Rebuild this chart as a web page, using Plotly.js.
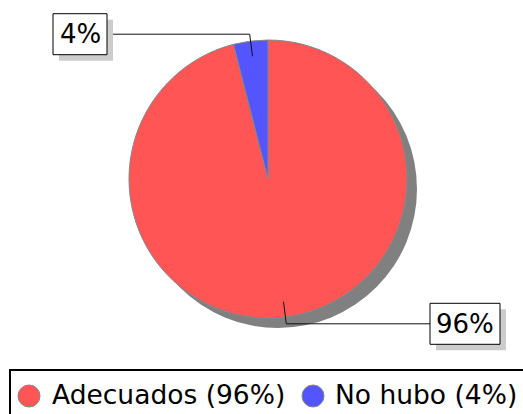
<!DOCTYPE html>
<html>
<head>
<meta charset="utf-8">
<script src="https://cdn.plot.ly/plotly-3.0.1.min.js"></script>
<style>html,body{margin:0;padding:0;background:#fff;}#chart{width:523px;height:414px;}</style>
</head>
<body>
<div id="chart"></div>
<script>
// ---- data ----
var categories = ["Adecuados", "No hubo"];
var values = [96, 4];
var sliceColors = ["#FF5555", "#5555FF"];
var percentLabels = ["96%", "4%"];
var legendLabels = ["Adecuados (96%)", "No hubo (4%)"];

// ---- layout geometry (pixels) ----
var W = 523, H = 414;
var cx = 268, cy = 179, r = 139;
var shadowOff = 10;
var FONT = "DejaVu Sans, sans-serif";
function px(x) { return x / W; }
function py(y) { return 1 - y / H; }

var total = values.reduce(function (a, b) { return a + b; }, 0);

var shadowTrace = {
  type: "pie", values: [1], labels: ["shadow"], sort: false,
  marker: { colors: ["#808080"], line: { width: 0 } },
  textinfo: "none", hoverinfo: "skip", showlegend: false,
  domain: { x: [px(cx - r + shadowOff), px(cx + r + shadowOff)], y: [py(cy + r + shadowOff), py(cy - r + shadowOff)] }
};
var pieTrace = {
  type: "pie", values: values, labels: categories, sort: false,
  direction: "clockwise", rotation: 0,
  marker: { colors: sliceColors, line: { color: "#888888", width: 1 } },
  textinfo: "none", hoverinfo: "label+percent", showlegend: false,
  domain: { x: [px(cx - r), px(cx + r)], y: [py(cy + r), py(cy - r)] }
};

var shapes = [], annotations = [];
var boxX = { 0: [430, 500], 1: [53, 107] };
var boxH = 41, boxShadow = 6;
var cum = 0;
for (var i = 0; i < values.length; i++) {
  var frac = (cum + values[i] / 2) / total;
  cum += values[i];
  var th = 2 * Math.PI * frac;
  var xi = cx + 0.89 * r * Math.sin(th), yi = cy - 0.89 * r * Math.cos(th);
  var xo = cx + 1.05 * r * Math.sin(th), yo = cy - 1.05 * r * Math.cos(th);
  var bx = boxX[i];
  var edge = Math.sin(th) >= 0 ? bx[0] : bx[1];
  shapes.push({ type: "path", xref: "paper", yref: "paper",
    path: "M" + px(xi) + "," + py(yi) + " L" + px(xo) + "," + py(yo) + " L" + px(edge) + "," + py(yo),
    line: { color: "#111", width: 1 } });
  var y0 = yo - boxH / 2, y1 = yo + boxH / 2;
  shapes.push({ type: "rect", xref: "paper", yref: "paper",
    x0: px(bx[0] + boxShadow), x1: px(bx[1] + boxShadow), y0: py(y0 + boxShadow), y1: py(y1 + boxShadow),
    fillcolor: "#CCCCCC", line: { width: 0 } });
  shapes.push({ type: "rect", xref: "paper", yref: "paper",
    x0: px(bx[0]), x1: px(bx[1]), y0: py(y0), y1: py(y1),
    fillcolor: "#FFFFFF", line: { color: "#000", width: 1 } });
  annotations.push({ xref: "paper", yref: "paper", x: px((bx[0] + bx[1]) / 2), y: py(yo),
    xanchor: "center", yanchor: "middle", showarrow: false, text: percentLabels[i],
    font: { family: FONT, size: 26, color: "#000" } });
}

// manual legend
shapes.push({ type: "rect", xref: "paper", yref: "paper", x0: px(10), x1: px(560), y0: py(370), y1: py(440),
  fillcolor: "rgba(0,0,0,0)", line: { color: "#000", width: 2 } });
var legMarkX = [29, 313], legTextX = [50, 333], legY = 396, legR = 11;
for (var j = 0; j < categories.length; j++) {
  shapes.push({ type: "circle", xref: "paper", yref: "paper",
    x0: px(legMarkX[j] - legR), x1: px(legMarkX[j] + legR), y0: py(legY + legR), y1: py(legY - legR),
    fillcolor: sliceColors[j], line: { color: "#888888", width: 1 } });
  annotations.push({ xref: "paper", yref: "paper", x: px(legTextX[j]), y: py(legY - 2),
    xanchor: "left", yanchor: "middle", showarrow: false, text: legendLabels[j],
    font: { family: FONT, size: 26.5, color: "#000" } });
}

var layout = {
  width: W, height: H, margin: { l: 0, r: 0, t: 0, b: 0 },
  paper_bgcolor: "#fff", showlegend: false,
  shapes: shapes, annotations: annotations
};
Plotly.newPlot("chart", [shadowTrace, pieTrace], layout, { displayModeBar: false, staticPlot: true });
</script>
</body>
</html>
